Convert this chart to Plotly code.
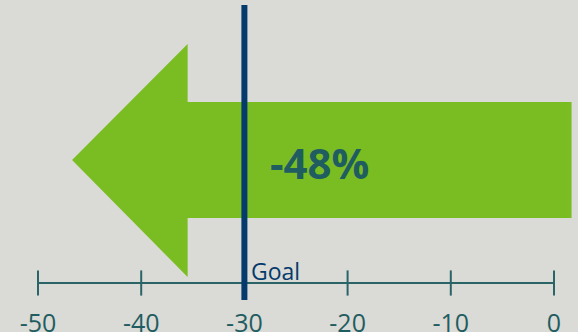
import plotly.graph_objects as go

# ---- data ----
tick_vals = [-50, -40, -30, -20, -10, 0]
tick_labels = ["-50", "-40", "-30", "-20", "-10", "0"]
change_label = "-48%"
arrow_tip = -46.7        # where the arrow point reaches on the scale
arrow_head_base = -35.5  # where the arrow head starts
arrow_tail = 1.7         # right end of arrow body
goal_value = -30
goal_label = "Goal"

# ---- styles ----
BG = "#dadad6"
GREEN = "#7abd22"
TEAL = "#1f5d60"
AXIS = "#2a6467"
NAVY = "#053a6c"
FONT = "Open Sans"

# vertical layout (y in pixel-like units, axis line at y=0)
body_top, body_bot = 181, 65
head_top, head_bot = 239, 6
mid = 123

fig = go.Figure()

# arrow
fig.add_trace(go.Scatter(
    x=[arrow_tail, arrow_head_base, arrow_head_base, arrow_tip, arrow_head_base, arrow_head_base, arrow_tail, arrow_tail],
    y=[body_top, body_top, head_top, mid, head_bot, body_bot, body_bot, body_top],
    fill="toself", fillcolor=GREEN, line=dict(width=0, color=GREEN),
    mode="lines", hoverinfo="skip", showlegend=False))

# axis line
fig.add_trace(go.Scatter(
    x=[min(tick_vals), max(tick_vals)], y=[0, 0], mode="lines",
    line=dict(color=AXIS, width=2), hoverinfo="skip", showlegend=False))
# crossing ticks
fig.add_trace(go.Scatter(
    x=tick_vals, y=[0] * len(tick_vals), mode="markers",
    marker=dict(symbol="line-ns", size=18, line=dict(color=AXIS, width=2)),
    hoverinfo="skip", showlegend=False))

# goal line
fig.add_trace(go.Scatter(
    x=[goal_value, goal_value], y=[-17, 278], mode="lines",
    line=dict(color=NAVY, width=6), hoverinfo="skip", showlegend=False))

fig.add_annotation(x=goal_value + 0.4, y=12, text=goal_label, showarrow=False,
                   xanchor="left", yanchor="middle",
                   font=dict(family=FONT, size=23, color=NAVY))
fig.add_annotation(x=-22.7, y=121, text="<b>" + change_label + "</b>", showarrow=False,
                   xanchor="center", yanchor="middle",
                   font=dict(family=FONT, size=42, color=TEAL))

px_per_unit = 10.32
x0_px = 554
W, H = 578, 332
axis_px = 283
fig.update_layout(
    width=W, height=H, margin=dict(l=0, r=0, t=0, b=0),
    paper_bgcolor=BG, plot_bgcolor=BG,
    xaxis=dict(range=[(0 - x0_px) / px_per_unit, (W - x0_px) / px_per_unit],
               tickvals=tick_vals, ticktext=tick_labels,
               showgrid=False, zeroline=False, showline=False, automargin=False,
               ticks="outside", ticklen=18, tickcolor="rgba(0,0,0,0)",
               anchor="free", position=(H - axis_px) / H,
               tickfont=dict(family=FONT, size=25, color=TEAL)),
    yaxis=dict(range=[axis_px - H, axis_px], visible=False, fixedrange=True, automargin=False),
)

fig.write_html("out.html", config={"displayModeBar": False},
               post_script="document.body.style.margin='0';document.body.style.overflow='hidden';")
